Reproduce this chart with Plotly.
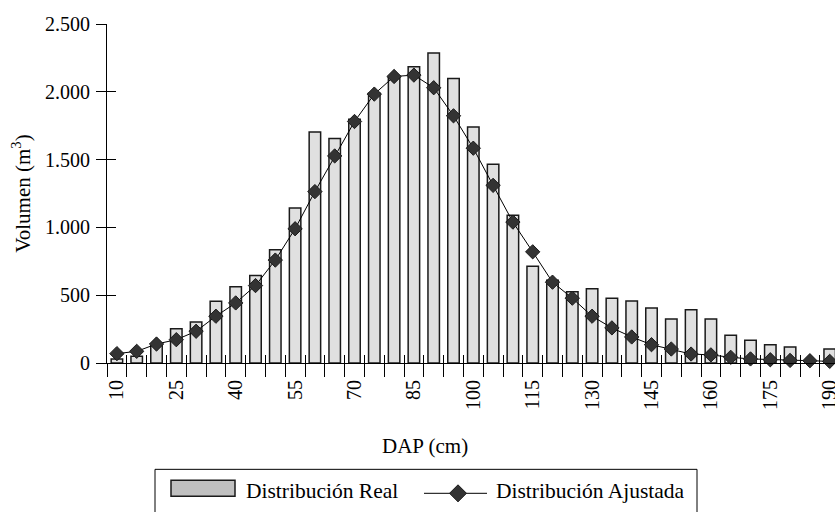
import plotly.graph_objects as go

# ---------------- data ----------------
dap = [str(v) for v in range(10, 195, 5)]          # DAP classes (cm)
real = [30, 50, 130, 253, 303, 456, 562, 645, 835, 1143, 1704, 1655, 1798, 1990,
        2106, 2185, 2286, 2098, 1741, 1465, 1089, 714, 611, 525, 547, 478, 458,
        406, 325, 392, 325, 204, 167, 135, 118, 0, 103]
ajustada = [69, 86, 140, 172, 234, 345, 443, 571, 759, 990, 1264, 1527, 1781, 1983,
            2113, 2123, 2030, 1823, 1584, 1310, 1039, 820, 596, 478, 345, 259, 192,
            135, 103, 66, 60, 42, 30, 24, 19, 17, 12]
tick_text = [c if i % 3 == 0 else "" for i, c in enumerate(dap)]
y_ticks = [0, 500, 1000, 1500, 2000, 2500]

FONT = "'Liberation Serif', 'Times New Roman', Times, serif"
W, H = 835, 512
L, R, T, B = 107, 835, 24, 363.5
xmax = -0.5 + (R - L) / 19.8


def px(p):
    return (p - L) / (R - L)


def py(p):
    return (B - p) / (B - T)


fig = go.Figure()
fig.add_trace(go.Bar(
    x=dap, y=real, name="Distribución Real",
    marker=dict(color="#e0e0e0", line=dict(color="#1a1a1a", width=1.5)),
    showlegend=False,
))
fig.add_trace(go.Scatter(
    x=dap, y=ajustada, name="Distribución Ajustada", mode="lines+markers",
    xaxis="x2", yaxis="y2",
    line=dict(color="#000000", width=1),
    marker=dict(symbol="diamond", size=11, color="#333333",
                line=dict(color="#1a1a1a", width=1)),
    cliponaxis=False, showlegend=False,
))

# legend drawn by hand (wide swatch like the reference)
shapes = [
    dict(type="rect", xref="paper", yref="paper", x0=px(155), x1=px(697),
         y0=py(470), y1=py(540), line=dict(color="#000", width=1)),
    dict(type="rect", xref="paper", yref="paper", x0=px(171), x1=px(235),
         y0=py(481), y1=py(497), fillcolor="#c0c0c0",
         line=dict(color="#1a1a1a", width=1.5)),
    dict(type="line", xref="paper", yref="paper", x0=px(424), x1=px(487),
         y0=py(494), y1=py(494), line=dict(color="#000", width=1)),
    dict(type="path", xref="paper", yref="paper",
         path=(f"M{px(449.5)},{py(494)} L{px(458)},{py(485.5)} "
               f"L{px(466.5)},{py(494)} L{px(458)},{py(502.5)} Z"),
         fillcolor="#333333", line=dict(color="#1a1a1a", width=1)),
]
annotations = [
    dict(text="Distribución Real", xref="paper", yref="paper", x=px(244),
         y=py(492), xanchor="left", yanchor="middle", showarrow=False,
         font=dict(family=FONT, size=21.5, color="#000")),
    dict(text="Distribución Ajustada", xref="paper", yref="paper", x=px(494),
         y=py(492), xanchor="left", yanchor="middle", showarrow=False,
         font=dict(family=FONT, size=21.5, color="#000")),
    dict(text="DAP (cm)", xref="paper", yref="paper", x=px(425), y=py(447),
         xanchor="center", yanchor="middle", showarrow=False,
         font=dict(family=FONT, size=21, color="#000")),
]

fig.update_layout(
    template="none",
    width=W, height=H,
    margin=dict(l=L, r=W - R, t=T, b=H - B, pad=0),
    paper_bgcolor="white", plot_bgcolor="white",
    font=dict(family=FONT, size=20, color="#000"),
    separators=",.",
    bargap=0.42,
    showlegend=False,
    shapes=shapes,
    annotations=annotations,
    xaxis=dict(
        type="category", categoryorder="array", categoryarray=dap,
        range=[-0.5, xmax], automargin=False,
        showline=True, linecolor="#000", linewidth=1,
        showgrid=False, zeroline=False,
        tickmode="array", tickvals=dap, ticktext=tick_text,
        tickson="boundaries", ticks="outside", ticklen=13, tickwidth=1,
        tickcolor="#000", ticklabelstandoff=8,
        tickangle=-90, tickfont=dict(family=FONT, size=20),
    ),
    xaxis2=dict(
        type="category", categoryorder="array", categoryarray=dap,
        overlaying="x", matches="x", anchor="y2", side="bottom",
        automargin=False, tickmode="array", tickvals=dap,
        tickson="boundaries", ticks="inside", ticklen=8, tickwidth=1,
        tickcolor="#000", showticklabels=False, showgrid=False,
        zeroline=False, showline=False,
    ),
    yaxis=dict(
        range=[0, 2500], tickmode="array", tickvals=y_ticks, tickformat=",",
        automargin=False,
        ticks="outside", ticklen=10, tickcolor="#000", tickwidth=1,
        showline=True, linecolor="#000", linewidth=1, showgrid=False,
        zeroline=False, tickfont=dict(family=FONT, size=20), ticklabelstandoff=2,
        title=dict(text="Volumen (m<sup>3</sup>)",
                   font=dict(family=FONT, size=21), standoff=8),
    ),
    yaxis2=dict(
        overlaying="y", matches="y", anchor="x2", side="left",
        automargin=False, tickmode="array", tickvals=y_ticks,
        ticks="inside", ticklen=9, tickwidth=1, tickcolor="#000",
        showticklabels=False, showgrid=False, zeroline=False, showline=False,
    ),
)

fig.write_html("out.html", config={"displayModeBar": False},
               post_script="document.body.style.margin='0';")
